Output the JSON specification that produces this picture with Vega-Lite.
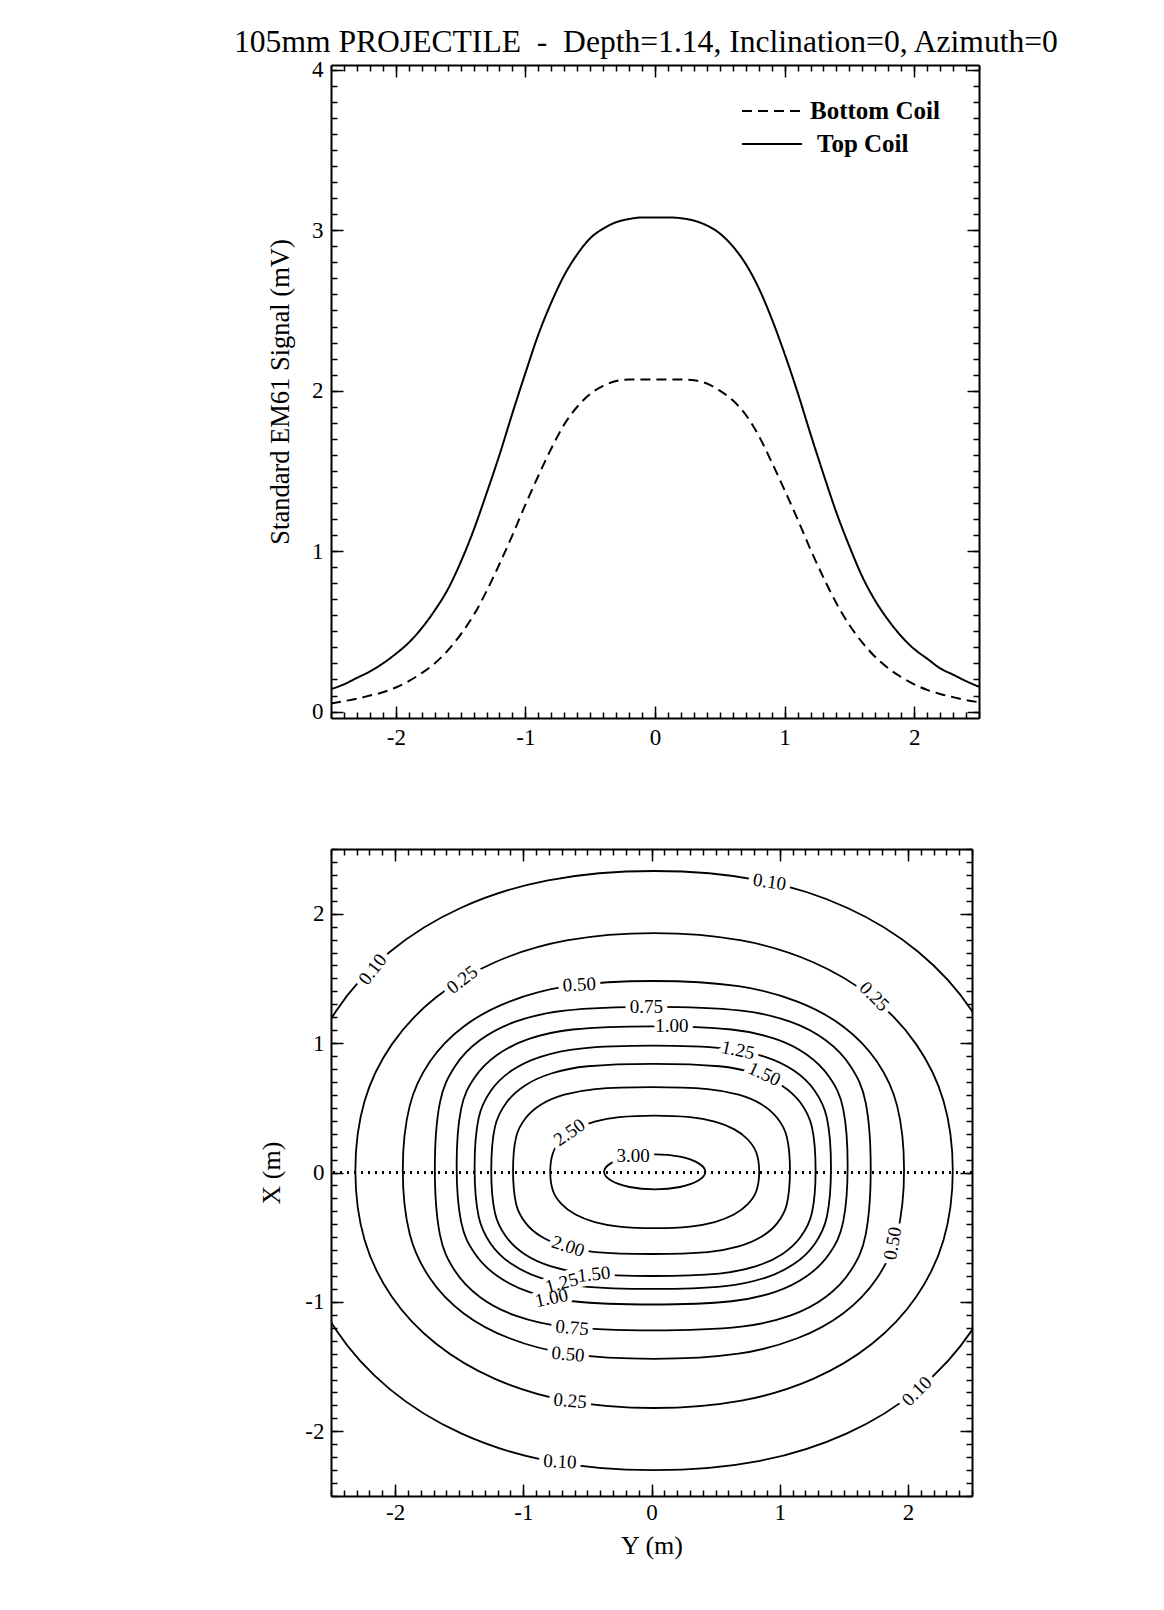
{
"$schema": "https://vega.github.io/schema/vega-lite/v6.json",
"padding": {"left": 234, "top": 27, "right": 5, "bottom": 5},
"background": "white",
"title": {"text": "105mm PROJECTILE \u00a0-\u00a0 Depth=1.14, Inclination=0, Azimuth=0", "font": "Liberation Serif", "fontSize": 31.6, "fontWeight": "normal", "color": "black", "anchor": "start", "frame": "group", "dx": -97, "offset": 0},
"config": {
 "view": {"stroke": null},
 "axis": {"grid": false, "domainColor": "black", "domainWidth": 2, "tickColor": "black", "tickWidth": 1.5, "labelColor": "black", "labelFont": "Liberation Serif", "labelFontSize": 23, "labelFlush": false, "titleColor": "black", "titleFont": "Liberation Serif", "titleFontSize": 26, "titleFontWeight": "normal"},
 "legend": {"orient": "none", "title": null, "symbolType": "stroke", "symbolSize": 3600, "symbolStrokeWidth": 2, "symbolStrokeColor": "black", "labelFont": "Liberation Serif", "labelFontSize": 25, "labelFontWeight": "bold", "labelColor": "black", "labelOffset": 7}
},
"datasets": {
 "profile": [
  {"p":-2.5,"s":0.14,"c":"Top Coil"},{"p":-2.4,"s":0.17,"c":"Top Coil"},{"p":-2.3,"s":0.21,"c":"Top Coil"},{"p":-2.2,"s":0.25,"c":"Top Coil"},{"p":-2.1,"s":0.30,"c":"Top Coil"},{"p":-2.0,"s":0.36,"c":"Top Coil"},{"p":-1.9,"s":0.43,"c":"Top Coil"},{"p":-1.8,"s":0.52,"c":"Top Coil"},{"p":-1.7,"s":0.63,"c":"Top Coil"},{"p":-1.6,"s":0.76,"c":"Top Coil"},{"p":-1.5,"s":0.93,"c":"Top Coil"},{"p":-1.4,"s":1.13,"c":"Top Coil"},{"p":-1.3,"s":1.36,"c":"Top Coil"},{"p":-1.2,"s":1.60,"c":"Top Coil"},{"p":-1.1,"s":1.86,"c":"Top Coil"},{"p":-1.0,"s":2.11,"c":"Top Coil"},{"p":-0.9,"s":2.35,"c":"Top Coil"},{"p":-0.8,"s":2.55,"c":"Top Coil"},{"p":-0.7,"s":2.72,"c":"Top Coil"},{"p":-0.6,"s":2.85,"c":"Top Coil"},{"p":-0.5,"s":2.95,"c":"Top Coil"},{"p":-0.4,"s":3.01,"c":"Top Coil"},{"p":-0.3,"s":3.05,"c":"Top Coil"},{"p":-0.2,"s":3.07,"c":"Top Coil"},{"p":-0.1,"s":3.08,"c":"Top Coil"},{"p":0.0,"s":3.08,"c":"Top Coil"},{"p":0.1,"s":3.08,"c":"Top Coil"},{"p":0.2,"s":3.075,"c":"Top Coil"},{"p":0.3,"s":3.06,"c":"Top Coil"},{"p":0.4,"s":3.03,"c":"Top Coil"},{"p":0.5,"s":2.98,"c":"Top Coil"},{"p":0.6,"s":2.90,"c":"Top Coil"},{"p":0.7,"s":2.79,"c":"Top Coil"},{"p":0.8,"s":2.64,"c":"Top Coil"},{"p":0.9,"s":2.45,"c":"Top Coil"},{"p":1.0,"s":2.23,"c":"Top Coil"},{"p":1.1,"s":1.99,"c":"Top Coil"},{"p":1.2,"s":1.73,"c":"Top Coil"},{"p":1.3,"s":1.48,"c":"Top Coil"},{"p":1.4,"s":1.24,"c":"Top Coil"},{"p":1.5,"s":1.03,"c":"Top Coil"},{"p":1.6,"s":0.84,"c":"Top Coil"},{"p":1.7,"s":0.69,"c":"Top Coil"},{"p":1.8,"s":0.57,"c":"Top Coil"},{"p":1.9,"s":0.47,"c":"Top Coil"},{"p":2.0,"s":0.39,"c":"Top Coil"},{"p":2.1,"s":0.33,"c":"Top Coil"},{"p":2.2,"s":0.27,"c":"Top Coil"},{"p":2.3,"s":0.23,"c":"Top Coil"},{"p":2.4,"s":0.19,"c":"Top Coil"},{"p":2.5,"s":0.155,"c":"Top Coil"},
  {"p":-2.5,"s":0.05,"c":"Bottom Coil"},{"p":-2.4,"s":0.065,"c":"Bottom Coil"},{"p":-2.3,"s":0.08,"c":"Bottom Coil"},{"p":-2.2,"s":0.10,"c":"Bottom Coil"},{"p":-2.1,"s":0.12,"c":"Bottom Coil"},{"p":-2.0,"s":0.15,"c":"Bottom Coil"},{"p":-1.9,"s":0.19,"c":"Bottom Coil"},{"p":-1.8,"s":0.24,"c":"Bottom Coil"},{"p":-1.7,"s":0.30,"c":"Bottom Coil"},{"p":-1.6,"s":0.38,"c":"Bottom Coil"},{"p":-1.5,"s":0.48,"c":"Bottom Coil"},{"p":-1.4,"s":0.60,"c":"Bottom Coil"},{"p":-1.3,"s":0.75,"c":"Bottom Coil"},{"p":-1.2,"s":0.92,"c":"Bottom Coil"},{"p":-1.1,"s":1.10,"c":"Bottom Coil"},{"p":-1.0,"s":1.29,"c":"Bottom Coil"},{"p":-0.9,"s":1.47,"c":"Bottom Coil"},{"p":-0.8,"s":1.64,"c":"Bottom Coil"},{"p":-0.7,"s":1.79,"c":"Bottom Coil"},{"p":-0.6,"s":1.90,"c":"Bottom Coil"},{"p":-0.5,"s":1.98,"c":"Bottom Coil"},{"p":-0.4,"s":2.03,"c":"Bottom Coil"},{"p":-0.3,"s":2.06,"c":"Bottom Coil"},{"p":-0.2,"s":2.07,"c":"Bottom Coil"},{"p":-0.1,"s":2.07,"c":"Bottom Coil"},{"p":0.0,"s":2.07,"c":"Bottom Coil"},{"p":0.1,"s":2.07,"c":"Bottom Coil"},{"p":0.2,"s":2.07,"c":"Bottom Coil"},{"p":0.3,"s":2.065,"c":"Bottom Coil"},{"p":0.4,"s":2.045,"c":"Bottom Coil"},{"p":0.5,"s":2.0,"c":"Bottom Coil"},{"p":0.6,"s":1.94,"c":"Bottom Coil"},{"p":0.7,"s":1.85,"c":"Bottom Coil"},{"p":0.8,"s":1.72,"c":"Bottom Coil"},{"p":0.9,"s":1.555,"c":"Bottom Coil"},{"p":1.0,"s":1.38,"c":"Bottom Coil"},{"p":1.1,"s":1.2,"c":"Bottom Coil"},{"p":1.2,"s":1.01,"c":"Bottom Coil"},{"p":1.3,"s":0.835,"c":"Bottom Coil"},{"p":1.4,"s":0.675,"c":"Bottom Coil"},{"p":1.5,"s":0.54,"c":"Bottom Coil"},{"p":1.6,"s":0.43,"c":"Bottom Coil"},{"p":1.7,"s":0.34,"c":"Bottom Coil"},{"p":1.8,"s":0.27,"c":"Bottom Coil"},{"p":1.9,"s":0.215,"c":"Bottom Coil"},{"p":2.0,"s":0.17,"c":"Bottom Coil"},{"p":2.1,"s":0.135,"c":"Bottom Coil"},{"p":2.2,"s":0.11,"c":"Bottom Coil"},{"p":2.3,"s":0.09,"c":"Bottom Coil"},{"p":2.4,"s":0.072,"c":"Bottom Coil"},{"p":2.5,"s":0.058,"c":"Bottom Coil"}
 ],
 "contours": [
  {"l":"0.10","k":0,"Y":2.846,"X":0.015},{"l":"0.10","k":1,"Y":2.758,"X":0.692},{"l":"0.10","k":2,"Y":2.50,"X":1.248},{"l":"0.10","k":3,"Y":2.082,"X":1.704},{"l":"0.10","k":4,"Y":1.525,"X":2.046},{"l":"0.10","k":5,"Y":0.847,"X":2.258},{"l":"0.10","k":6,"Y":0.02,"X":2.33},{"l":"0.10","k":7,"Y":-0.807,"X":2.258},{"l":"0.10","k":8,"Y":-1.485,"X":2.046},{"l":"0.10","k":9,"Y":-2.042,"X":1.704},{"l":"0.10","k":10,"Y":-2.46,"X":1.248},{"l":"0.10","k":11,"Y":-2.718,"X":0.692},{"l":"0.10","k":12,"Y":-2.806,"X":0.015},{"l":"0.10","k":13,"Y":-2.718,"X":-0.662},{"l":"0.10","k":14,"Y":-2.46,"X":-1.218},{"l":"0.10","k":15,"Y":-2.042,"X":-1.674},{"l":"0.10","k":16,"Y":-1.485,"X":-2.016},{"l":"0.10","k":17,"Y":-0.807,"X":-2.228},{"l":"0.10","k":18,"Y":0.02,"X":-2.30},{"l":"0.10","k":19,"Y":0.847,"X":-2.228},{"l":"0.10","k":20,"Y":1.525,"X":-2.016},{"l":"0.10","k":21,"Y":2.082,"X":-1.674},{"l":"0.10","k":22,"Y":2.50,"X":-1.218},{"l":"0.10","k":23,"Y":2.758,"X":-0.662},
  {"l":"0.25","k":0,"Y":2.35,"X":0.015},{"l":"0.25","k":1,"Y":2.278,"X":0.552},{"l":"0.25","k":2,"Y":2.064,"X":0.992},{"l":"0.25","k":3,"Y":1.72,"X":1.354},{"l":"0.25","k":4,"Y":1.261,"X":1.625},{"l":"0.25","k":5,"Y":0.702,"X":1.793},{"l":"0.25","k":6,"Y":0.02,"X":1.85},{"l":"0.25","k":7,"Y":-0.662,"X":1.793},{"l":"0.25","k":8,"Y":-1.221,"X":1.625},{"l":"0.25","k":9,"Y":-1.68,"X":1.354},{"l":"0.25","k":10,"Y":-2.024,"X":0.992},{"l":"0.25","k":11,"Y":-2.238,"X":0.552},{"l":"0.25","k":12,"Y":-2.31,"X":0.015},{"l":"0.25","k":13,"Y":-2.238,"X":-0.522},{"l":"0.25","k":14,"Y":-2.024,"X":-0.962},{"l":"0.25","k":15,"Y":-1.68,"X":-1.324},{"l":"0.25","k":16,"Y":-1.221,"X":-1.595},{"l":"0.25","k":17,"Y":-0.662,"X":-1.763},{"l":"0.25","k":18,"Y":0.02,"X":-1.82},{"l":"0.25","k":19,"Y":0.702,"X":-1.763},{"l":"0.25","k":20,"Y":1.261,"X":-1.595},{"l":"0.25","k":21,"Y":1.72,"X":-1.324},{"l":"0.25","k":22,"Y":2.064,"X":-0.962},{"l":"0.25","k":23,"Y":2.278,"X":-0.522},
  {"l":"0.50","k":0,"Y":1.97,"X":0.02},{"l":"0.50","k":1,"Y":1.916,"X":0.515},{"l":"0.50","k":2,"Y":1.757,"X":0.859},{"l":"0.50","k":3,"Y":1.497,"X":1.127},{"l":"0.50","k":4,"Y":1.138,"X":1.321},{"l":"0.50","k":5,"Y":0.678,"X":1.44},{"l":"0.50","k":6,"Y":0.015,"X":1.48},{"l":"0.50","k":7,"Y":-0.648,"X":1.44},{"l":"0.50","k":8,"Y":-1.108,"X":1.321},{"l":"0.50","k":9,"Y":-1.467,"X":1.127},{"l":"0.50","k":10,"Y":-1.727,"X":0.859},{"l":"0.50","k":11,"Y":-1.886,"X":0.515},{"l":"0.50","k":12,"Y":-1.94,"X":0.02},{"l":"0.50","k":13,"Y":-1.886,"X":-0.475},{"l":"0.50","k":14,"Y":-1.727,"X":-0.819},{"l":"0.50","k":15,"Y":-1.467,"X":-1.087},{"l":"0.50","k":16,"Y":-1.108,"X":-1.281},{"l":"0.50","k":17,"Y":-0.648,"X":-1.40},{"l":"0.50","k":18,"Y":0.015,"X":-1.44},{"l":"0.50","k":19,"Y":0.678,"X":-1.40},{"l":"0.50","k":20,"Y":1.138,"X":-1.281},{"l":"0.50","k":21,"Y":1.497,"X":-1.087},{"l":"0.50","k":22,"Y":1.757,"X":-0.819},{"l":"0.50","k":23,"Y":1.916,"X":-0.475},
  {"l":"0.75","k":0,"Y":1.71,"X":0.03},{"l":"0.75","k":1,"Y":1.671,"X":0.538},{"l":"0.75","k":2,"Y":1.555,"X":0.818},{"l":"0.75","k":3,"Y":1.359,"X":1.022},{"l":"0.75","k":4,"Y":1.081,"X":1.166},{"l":"0.75","k":5,"Y":0.70,"X":1.251},{"l":"0.75","k":6,"Y":0.01,"X":1.28},{"l":"0.75","k":7,"Y":-0.68,"X":1.251},{"l":"0.75","k":8,"Y":-1.061,"X":1.166},{"l":"0.75","k":9,"Y":-1.339,"X":1.022},{"l":"0.75","k":10,"Y":-1.535,"X":0.818},{"l":"0.75","k":11,"Y":-1.651,"X":0.538},{"l":"0.75","k":12,"Y":-1.69,"X":0.03},{"l":"0.75","k":13,"Y":-1.651,"X":-0.478},{"l":"0.75","k":14,"Y":-1.535,"X":-0.758},{"l":"0.75","k":15,"Y":-1.339,"X":-0.962},{"l":"0.75","k":16,"Y":-1.061,"X":-1.106},{"l":"0.75","k":17,"Y":-0.68,"X":-1.191},{"l":"0.75","k":18,"Y":0.01,"X":-1.22},{"l":"0.75","k":19,"Y":0.70,"X":-1.191},{"l":"0.75","k":20,"Y":1.081,"X":-1.106},{"l":"0.75","k":21,"Y":1.359,"X":-0.962},{"l":"0.75","k":22,"Y":1.555,"X":-0.758},{"l":"0.75","k":23,"Y":1.671,"X":-0.478},
  {"l":"1.00","k":0,"Y":1.53,"X":0.055},{"l":"1.00","k":1,"Y":1.495,"X":0.492},{"l":"1.00","k":2,"Y":1.391,"X":0.732},{"l":"1.00","k":3,"Y":1.215,"X":0.908},{"l":"1.00","k":4,"Y":0.966,"X":1.032},{"l":"1.00","k":5,"Y":0.624,"X":1.105},{"l":"1.00","k":6,"Y":0.005,"X":1.13},{"l":"1.00","k":7,"Y":-0.614,"X":1.105},{"l":"1.00","k":8,"Y":-0.956,"X":1.032},{"l":"1.00","k":9,"Y":-1.205,"X":0.908},{"l":"1.00","k":10,"Y":-1.381,"X":0.732},{"l":"1.00","k":11,"Y":-1.485,"X":0.492},{"l":"1.00","k":12,"Y":-1.52,"X":0.055},{"l":"1.00","k":13,"Y":-1.485,"X":-0.382},{"l":"1.00","k":14,"Y":-1.381,"X":-0.622},{"l":"1.00","k":15,"Y":-1.205,"X":-0.798},{"l":"1.00","k":16,"Y":-0.956,"X":-0.922},{"l":"1.00","k":17,"Y":-0.614,"X":-0.995},{"l":"1.00","k":18,"Y":0.005,"X":-1.02},{"l":"1.00","k":19,"Y":0.624,"X":-0.995},{"l":"1.00","k":20,"Y":0.966,"X":-0.922},{"l":"1.00","k":21,"Y":1.215,"X":-0.798},{"l":"1.00","k":22,"Y":1.391,"X":-0.622},{"l":"1.00","k":23,"Y":1.495,"X":-0.382},
  {"l":"1.25","k":0,"Y":1.40,"X":0.04},{"l":"1.25","k":1,"Y":1.368,"X":0.422},{"l":"1.25","k":2,"Y":1.273,"X":0.632},{"l":"1.25","k":3,"Y":1.113,"X":0.786},{"l":"1.25","k":4,"Y":0.886,"X":0.894},{"l":"1.25","k":5,"Y":0.574,"X":0.958},{"l":"1.25","k":6,"Y":0.01,"X":0.98},{"l":"1.25","k":7,"Y":-0.554,"X":0.958},{"l":"1.25","k":8,"Y":-0.866,"X":0.894},{"l":"1.25","k":9,"Y":-1.093,"X":0.786},{"l":"1.25","k":10,"Y":-1.253,"X":0.632},{"l":"1.25","k":11,"Y":-1.348,"X":0.422},{"l":"1.25","k":12,"Y":-1.38,"X":0.04},{"l":"1.25","k":13,"Y":-1.348,"X":-0.342},{"l":"1.25","k":14,"Y":-1.253,"X":-0.552},{"l":"1.25","k":15,"Y":-1.093,"X":-0.706},{"l":"1.25","k":16,"Y":-0.866,"X":-0.814},{"l":"1.25","k":17,"Y":-0.554,"X":-0.878},{"l":"1.25","k":18,"Y":0.01,"X":-0.90},{"l":"1.25","k":19,"Y":0.574,"X":-0.878},{"l":"1.25","k":20,"Y":0.886,"X":-0.814},{"l":"1.25","k":21,"Y":1.113,"X":-0.706},{"l":"1.25","k":22,"Y":1.273,"X":-0.552},{"l":"1.25","k":23,"Y":1.368,"X":-0.342},
  {"l":"1.50","k":0,"Y":1.28,"X":0.02},{"l":"1.50","k":1,"Y":1.251,"X":0.353},{"l":"1.50","k":2,"Y":1.164,"X":0.537},{"l":"1.50","k":3,"Y":1.019,"X":0.671},{"l":"1.50","k":4,"Y":0.812,"X":0.765},{"l":"1.50","k":5,"Y":0.529,"X":0.821},{"l":"1.50","k":6,"Y":0.015,"X":0.84},{"l":"1.50","k":7,"Y":-0.499,"X":0.821},{"l":"1.50","k":8,"Y":-0.782,"X":0.765},{"l":"1.50","k":9,"Y":-0.989,"X":0.671},{"l":"1.50","k":10,"Y":-1.134,"X":0.537},{"l":"1.50","k":11,"Y":-1.221,"X":0.353},{"l":"1.50","k":12,"Y":-1.25,"X":0.02},{"l":"1.50","k":13,"Y":-1.221,"X":-0.313},{"l":"1.50","k":14,"Y":-1.134,"X":-0.497},{"l":"1.50","k":15,"Y":-0.989,"X":-0.631},{"l":"1.50","k":16,"Y":-0.782,"X":-0.725},{"l":"1.50","k":17,"Y":-0.499,"X":-0.781},{"l":"1.50","k":18,"Y":0.015,"X":-0.80},{"l":"1.50","k":19,"Y":0.529,"X":-0.781},{"l":"1.50","k":20,"Y":0.812,"X":-0.725},{"l":"1.50","k":21,"Y":1.019,"X":-0.631},{"l":"1.50","k":22,"Y":1.164,"X":-0.497},{"l":"1.50","k":23,"Y":1.251,"X":-0.313},
  {"l":"2.00","k":0,"Y":1.08,"X":0.015},{"l":"2.00","k":1,"Y":1.055,"X":0.277},{"l":"2.00","k":2,"Y":0.981,"X":0.421},{"l":"2.00","k":3,"Y":0.857,"X":0.527},{"l":"2.00","k":4,"Y":0.68,"X":0.601},{"l":"2.00","k":5,"Y":0.439,"X":0.645},{"l":"2.00","k":6,"Y":0.0,"X":0.66},{"l":"2.00","k":7,"Y":-0.439,"X":0.645},{"l":"2.00","k":8,"Y":-0.68,"X":0.601},{"l":"2.00","k":9,"Y":-0.857,"X":0.527},{"l":"2.00","k":10,"Y":-0.981,"X":0.421},{"l":"2.00","k":11,"Y":-1.055,"X":0.277},{"l":"2.00","k":12,"Y":-1.08,"X":0.015},{"l":"2.00","k":13,"Y":-1.055,"X":-0.247},{"l":"2.00","k":14,"Y":-0.981,"X":-0.391},{"l":"2.00","k":15,"Y":-0.857,"X":-0.497},{"l":"2.00","k":16,"Y":-0.68,"X":-0.571},{"l":"2.00","k":17,"Y":-0.439,"X":-0.615},{"l":"2.00","k":18,"Y":0.0,"X":-0.63},{"l":"2.00","k":19,"Y":0.439,"X":-0.615},{"l":"2.00","k":20,"Y":0.68,"X":-0.571},{"l":"2.00","k":21,"Y":0.857,"X":-0.497},{"l":"2.00","k":22,"Y":0.981,"X":-0.391},{"l":"2.00","k":23,"Y":1.055,"X":-0.247},
  {"l":"2.50","k":0,"Y":0.84,"X":0.005},{"l":"2.50","k":1,"Y":0.818,"X":0.153},{"l":"2.50","k":2,"Y":0.751,"X":0.255},{"l":"2.50","k":3,"Y":0.643,"X":0.335},{"l":"2.50","k":4,"Y":0.493,"X":0.393},{"l":"2.50","k":5,"Y":0.301,"X":0.428},{"l":"2.50","k":6,"Y":0.025,"X":0.44},{"l":"2.50","k":7,"Y":-0.251,"X":0.428},{"l":"2.50","k":8,"Y":-0.443,"X":0.393},{"l":"2.50","k":9,"Y":-0.593,"X":0.335},{"l":"2.50","k":10,"Y":-0.701,"X":0.255},{"l":"2.50","k":11,"Y":-0.768,"X":0.153},{"l":"2.50","k":12,"Y":-0.79,"X":0.005},{"l":"2.50","k":13,"Y":-0.768,"X":-0.143},{"l":"2.50","k":14,"Y":-0.701,"X":-0.245},{"l":"2.50","k":15,"Y":-0.593,"X":-0.325},{"l":"2.50","k":16,"Y":-0.443,"X":-0.383},{"l":"2.50","k":17,"Y":-0.251,"X":-0.418},{"l":"2.50","k":18,"Y":0.025,"X":-0.43},{"l":"2.50","k":19,"Y":0.301,"X":-0.418},{"l":"2.50","k":20,"Y":0.493,"X":-0.383},{"l":"2.50","k":21,"Y":0.643,"X":-0.325},{"l":"2.50","k":22,"Y":0.751,"X":-0.245},{"l":"2.50","k":23,"Y":0.818,"X":-0.143},
  {"l":"3.00","k":0,"Y":0.42,"X":0.005},{"l":"3.00","k":1,"Y":0.365,"X":0.0725},{"l":"3.00","k":2,"Y":0.222,"X":0.122},{"l":"3.00","k":3,"Y":0.025,"X":0.14},{"l":"3.00","k":4,"Y":-0.172,"X":0.122},{"l":"3.00","k":5,"Y":-0.315,"X":0.0725},{"l":"3.00","k":6,"Y":-0.37,"X":0.005},{"l":"3.00","k":7,"Y":-0.315,"X":-0.0625},{"l":"3.00","k":8,"Y":-0.172,"X":-0.112},{"l":"3.00","k":9,"Y":0.025,"X":-0.13},{"l":"3.00","k":10,"Y":0.222,"X":-0.112},{"l":"3.00","k":11,"Y":0.365,"X":-0.0625}
 ],
 "labels": [
  {"t":"0.10","Y":0.921,"X":2.245,"r":8},{"t":"0.10","Y":-2.175,"X":1.57,"r":-52},{"t":"0.25","Y":-1.476,"X":1.49,"r":-38},{"t":"0.50","Y":-0.563,"X":1.452,"r":-3},{"t":"0.75","Y":-0.04,"X":1.28,"r":0},{"t":"1.00","Y":0.159,"X":1.13,"r":0},{"t":"1.25","Y":0.675,"X":0.945,"r":12},{"t":"1.50","Y":0.881,"X":0.76,"r":25},{"t":"0.25","Y":1.738,"X":1.36,"r":45},{"t":"2.50","Y":-0.64,"X":0.31,"r":-35},{"t":"3.00","Y":-0.143,"X":0.13,"r":0},{"t":"2.00","Y":-0.651,"X":-0.571,"r":18},{"t":"1.50","Y":-0.45,"X":-0.787,"r":-6},{"t":"1.25","Y":-0.70,"X":-0.855,"r":-15},{"t":"1.00","Y":-0.78,"X":-0.97,"r":-12},{"t":"0.75","Y":-0.619,"X":-1.2,"r":5},{"t":"0.50","Y":-0.651,"X":-1.405,"r":5},{"t":"0.25","Y":-0.635,"X":-1.765,"r":5},{"t":"0.10","Y":-0.714,"X":-2.235,"r":3},{"t":"0.50","Y":1.881,"X":-0.548,"r":-80},{"t":"0.10","Y":2.07,"X":-1.69,"r":-45}
 ]
},
"vconcat": [
 {
  "width": 648, "height": 653,
  "data": {"name": "profile"},
  "resolve": {"axis": {"x": "independent", "y": "independent"}, "scale": {"strokeDash": "independent"}, "legend": {"strokeDash": "independent"}},
  "layer": [
   {"transform": [{"filter": "datum.c == 'Top Coil'"}],
    "mark": {"type": "line", "color": "black", "strokeWidth": 2, "interpolate": "monotone"},
    "encoding": {
     "x": {"field": "p", "type": "quantitative", "scale": {"domain": [-2.5, 2.5], "nice": false, "zero": false}, "axis": {"orient": "bottom", "values": [-2, -1, 0, 1, 2], "ticks": false, "labelPadding": 8, "labelFontSize": 23, "labelExpr": "datum.value + ''", "title": null}},
     "y": {"field": "s", "type": "quantitative", "scale": {"domain": [-0.04, 4.03], "nice": false, "zero": false}, "axis": {"orient": "left", "values": [0, 1, 2, 3, 4], "ticks": false, "labelPadding": 8, "labelFontSize": 23, "labelExpr": "datum.value + ''", "title": "Standard EM61 Signal (mV)", "titleFontSize": 26.5, "titlePadding": 17}},
     "strokeDash": {"field": "c", "type": "nominal", "scale": {"domain": ["Top Coil"], "range": [[1, 0]]}, "legend": {"legendX": 410, "legendY": 48, "labelOffset": 14}}
    }},
   {"transform": [{"filter": "datum.c == 'Bottom Coil'"}],
    "mark": {"type": "line", "color": "black", "strokeWidth": 2, "interpolate": "monotone"},
    "encoding": {
     "x": {"field": "p", "type": "quantitative", "scale": {"domain": [-2.5, 2.5], "nice": false, "zero": false}, "axis": null},
     "y": {"field": "s", "type": "quantitative", "scale": {"domain": [-0.04, 4.03], "nice": false, "zero": false}, "axis": null},
     "strokeDash": {"field": "c", "type": "nominal", "scale": {"domain": ["Bottom Coil"], "range": [[10, 6]]}, "legend": {"legendX": 410, "legendY": 15}}
    }},
   {"mark": {"type": "point", "opacity": 0},
    "encoding": {
     "x": {"field": "p", "type": "quantitative", "scale": {"domain": [-2.5, 2.5], "nice": false, "zero": false}, "axis": {"orient": "top", "values": [-2, -1, 0, 1, 2], "labels": false, "tickSize": -12, "title": null}},
     "y": {"field": "s", "type": "quantitative", "scale": {"domain": [-0.04, 4.03], "nice": false, "zero": false}, "axis": {"orient": "right", "values": [0, 1, 2, 3, 4], "labels": false, "tickSize": -12, "title": null}}
    }},
   {"mark": {"type": "point", "opacity": 0},
    "encoding": {
     "x": {"field": "p", "type": "quantitative", "scale": {"domain": [-2.5, 2.5], "nice": false, "zero": false}, "axis": {"orient": "bottom", "values": [-2, -1, 0, 1, 2], "labels": false, "domain": false, "tickSize": -12, "title": null}},
     "y": {"field": "s", "type": "quantitative", "scale": {"domain": [-0.04, 4.03], "nice": false, "zero": false}, "axis": {"orient": "left", "values": [0, 1, 2, 3, 4], "labels": false, "domain": false, "tickSize": -12, "title": null}}
    }},
   {"mark": {"type": "point", "opacity": 0},
    "encoding": {
     "x": {"field": "p", "type": "quantitative", "scale": {"domain": [-2.5, 2.5], "nice": false, "zero": false}, "axis": {"orient": "top", "values": [-2.5,-2.4,-2.3,-2.2,-2.1,-2,-1.9,-1.8,-1.7,-1.6,-1.5,-1.4,-1.3,-1.2,-1.1,-1,-0.9,-0.8,-0.7,-0.6,-0.5,-0.4,-0.3,-0.2,-0.1,0,0.1,0.2,0.3,0.4,0.5,0.6,0.7,0.8,0.9,1,1.1,1.2,1.3,1.4,1.5,1.6,1.7,1.8,1.9,2,2.1,2.2,2.3,2.4,2.5], "labels": false, "domain": false, "tickSize": -6, "title": null}},
     "y": {"field": "s", "type": "quantitative", "scale": {"domain": [-0.04, 4.03], "nice": false, "zero": false}, "axis": {"orient": "right", "values": [0,0.1,0.2,0.3,0.4,0.5,0.6,0.7,0.8,0.9,1,1.1,1.2,1.3,1.4,1.5,1.6,1.7,1.8,1.9,2,2.1,2.2,2.3,2.4,2.5,2.6,2.7,2.8,2.9,3,3.1,3.2,3.3,3.4,3.5,3.6,3.7,3.8,3.9,4], "labels": false, "domain": false, "tickSize": -6, "title": null}}
    }},
   {"mark": {"type": "point", "opacity": 0},
    "encoding": {
     "x": {"field": "p", "type": "quantitative", "scale": {"domain": [-2.5, 2.5], "nice": false, "zero": false}, "axis": {"orient": "bottom", "values": [-2.5,-2.4,-2.3,-2.2,-2.1,-2,-1.9,-1.8,-1.7,-1.6,-1.5,-1.4,-1.3,-1.2,-1.1,-1,-0.9,-0.8,-0.7,-0.6,-0.5,-0.4,-0.3,-0.2,-0.1,0,0.1,0.2,0.3,0.4,0.5,0.6,0.7,0.8,0.9,1,1.1,1.2,1.3,1.4,1.5,1.6,1.7,1.8,1.9,2,2.1,2.2,2.3,2.4,2.5], "labels": false, "domain": false, "tickSize": -6, "title": null}},
     "y": {"field": "s", "type": "quantitative", "scale": {"domain": [-0.04, 4.03], "nice": false, "zero": false}, "axis": {"orient": "left", "values": [0,0.1,0.2,0.3,0.4,0.5,0.6,0.7,0.8,0.9,1,1.1,1.2,1.3,1.4,1.5,1.6,1.7,1.8,1.9,2,2.1,2.2,2.3,2.4,2.5,2.6,2.7,2.8,2.9,3,3.1,3.2,3.3,3.4,3.5,3.6,3.7,3.8,3.9,4], "labels": false, "domain": false, "tickSize": -6, "title": null}}
    }}
  ]
 },
 {
  "width": 641, "height": 647,
  "resolve": {"axis": {"x": "independent", "y": "independent"}},
  "layer": [
   {"data": {"name": "contours"},
    "mark": {"type": "line", "interpolate": "cardinal-closed", "clip": true, "color": "black", "strokeWidth": 1.8},
    "encoding": {
     "x": {"field": "Y", "type": "quantitative", "scale": {"domain": [-2.5, 2.5], "nice": false, "zero": false}, "axis": {"orient": "bottom", "values": [-2, -1, 0, 1, 2], "ticks": false, "labelPadding": 5, "labelFontSize": 23, "labelExpr": "datum.value + ''", "title": "Y (m)", "titlePadding": 8}},
     "y": {"field": "X", "type": "quantitative", "scale": {"domain": [-2.5, 2.5], "nice": false, "zero": false}, "axis": {"orient": "left", "values": [-2, -1, 0, 1, 2], "ticks": false, "labelPadding": 7, "labelFontSize": 23, "labelExpr": "datum.value + ''", "title": "X (m)", "titlePadding": 20}},
     "detail": {"field": "l", "type": "nominal"},
     "order": {"field": "k", "type": "quantitative"}
    }},
   {"data": {"name": "labels"},
    "mark": {"type": "rule", "color": "black", "strokeWidth": 2, "strokeDash": [2, 5]},
    "encoding": {"y": {"datum": 0, "type": "quantitative", "scale": {"domain": [-2.5, 2.5], "nice": false, "zero": false}, "axis": null}}},
   {"data": {"name": "labels"},
    "mark": {"type": "text", "font": "Liberation Serif", "fontSize": 19, "color": "white", "stroke": "white", "strokeWidth": 10, "strokeJoin": "round", "align": "center", "baseline": "middle"},
    "encoding": {
     "x": {"field": "Y", "type": "quantitative", "scale": {"domain": [-2.5, 2.5], "nice": false, "zero": false}, "axis": null},
     "y": {"field": "X", "type": "quantitative", "scale": {"domain": [-2.5, 2.5], "nice": false, "zero": false}, "axis": null},
     "text": {"field": "t", "type": "nominal"},
     "angle": {"field": "r", "type": "quantitative", "scale": null}
    }},
   {"data": {"name": "labels"},
    "mark": {"type": "text", "font": "Liberation Serif", "fontSize": 19, "color": "black", "align": "center", "baseline": "middle"},
    "encoding": {
     "x": {"field": "Y", "type": "quantitative", "scale": {"domain": [-2.5, 2.5], "nice": false, "zero": false}, "axis": null},
     "y": {"field": "X", "type": "quantitative", "scale": {"domain": [-2.5, 2.5], "nice": false, "zero": false}, "axis": null},
     "text": {"field": "t", "type": "nominal"},
     "angle": {"field": "r", "type": "quantitative", "scale": null}
    }},
   {"data": {"name": "labels"},
    "mark": {"type": "point", "opacity": 0},
    "encoding": {
     "x": {"field": "Y", "type": "quantitative", "scale": {"domain": [-2.5, 2.5], "nice": false, "zero": false}, "axis": {"orient": "top", "values": [-2, -1, 0, 1, 2], "labels": false, "tickSize": -12, "title": null}},
     "y": {"field": "X", "type": "quantitative", "scale": {"domain": [-2.5, 2.5], "nice": false, "zero": false}, "axis": {"orient": "right", "values": [-2, -1, 0, 1, 2], "labels": false, "tickSize": -12, "title": null}}
    }},
   {"data": {"name": "labels"},
    "mark": {"type": "point", "opacity": 0},
    "encoding": {
     "x": {"field": "Y", "type": "quantitative", "scale": {"domain": [-2.5, 2.5], "nice": false, "zero": false}, "axis": {"orient": "bottom", "values": [-2, -1, 0, 1, 2], "labels": false, "domain": false, "tickSize": -12, "title": null}},
     "y": {"field": "X", "type": "quantitative", "scale": {"domain": [-2.5, 2.5], "nice": false, "zero": false}, "axis": {"orient": "left", "values": [-2, -1, 0, 1, 2], "labels": false, "domain": false, "tickSize": -12, "title": null}}
    }},
   {"data": {"name": "labels"},
    "mark": {"type": "point", "opacity": 0},
    "encoding": {
     "x": {"field": "Y", "type": "quantitative", "scale": {"domain": [-2.5, 2.5], "nice": false, "zero": false}, "axis": {"orient": "top", "values": [-2.5,-2.4,-2.3,-2.2,-2.1,-2,-1.9,-1.8,-1.7,-1.6,-1.5,-1.4,-1.3,-1.2,-1.1,-1,-0.9,-0.8,-0.7,-0.6,-0.5,-0.4,-0.3,-0.2,-0.1,0,0.1,0.2,0.3,0.4,0.5,0.6,0.7,0.8,0.9,1,1.1,1.2,1.3,1.4,1.5,1.6,1.7,1.8,1.9,2,2.1,2.2,2.3,2.4,2.5], "labels": false, "domain": false, "tickSize": -6, "title": null}},
     "y": {"field": "X", "type": "quantitative", "scale": {"domain": [-2.5, 2.5], "nice": false, "zero": false}, "axis": {"orient": "right", "values": [-2.5,-2.4,-2.3,-2.2,-2.1,-2,-1.9,-1.8,-1.7,-1.6,-1.5,-1.4,-1.3,-1.2,-1.1,-1,-0.9,-0.8,-0.7,-0.6,-0.5,-0.4,-0.3,-0.2,-0.1,0,0.1,0.2,0.3,0.4,0.5,0.6,0.7,0.8,0.9,1,1.1,1.2,1.3,1.4,1.5,1.6,1.7,1.8,1.9,2,2.1,2.2,2.3,2.4,2.5], "labels": false, "domain": false, "tickSize": -6, "title": null}}
    }},
   {"data": {"name": "labels"},
    "mark": {"type": "point", "opacity": 0},
    "encoding": {
     "x": {"field": "Y", "type": "quantitative", "scale": {"domain": [-2.5, 2.5], "nice": false, "zero": false}, "axis": {"orient": "bottom", "values": [-2.5,-2.4,-2.3,-2.2,-2.1,-2,-1.9,-1.8,-1.7,-1.6,-1.5,-1.4,-1.3,-1.2,-1.1,-1,-0.9,-0.8,-0.7,-0.6,-0.5,-0.4,-0.3,-0.2,-0.1,0,0.1,0.2,0.3,0.4,0.5,0.6,0.7,0.8,0.9,1,1.1,1.2,1.3,1.4,1.5,1.6,1.7,1.8,1.9,2,2.1,2.2,2.3,2.4,2.5], "labels": false, "domain": false, "tickSize": -6, "title": null}},
     "y": {"field": "X", "type": "quantitative", "scale": {"domain": [-2.5, 2.5], "nice": false, "zero": false}, "axis": {"orient": "left", "values": [-2.5,-2.4,-2.3,-2.2,-2.1,-2,-1.9,-1.8,-1.7,-1.6,-1.5,-1.4,-1.3,-1.2,-1.1,-1,-0.9,-0.8,-0.7,-0.6,-0.5,-0.4,-0.3,-0.2,-0.1,0,0.1,0.2,0.3,0.4,0.5,0.6,0.7,0.8,0.9,1,1.1,1.2,1.3,1.4,1.5,1.6,1.7,1.8,1.9,2,2.1,2.2,2.3,2.4,2.5], "labels": false, "domain": false, "tickSize": -6, "title": null}}
    }}
  ]
 }
],
"spacing": 131,
"bounds": "flush"
}
